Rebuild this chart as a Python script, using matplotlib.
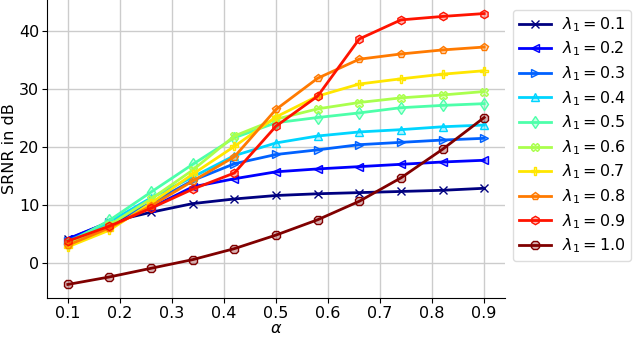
import numpy as np
import matplotlib
matplotlib.use("Agg")
import matplotlib.pyplot as plt

# alpha values on the x axis
alpha = [0.1, 0.18, 0.26, 0.34, 0.42, 0.5, 0.58, 0.66, 0.74, 0.82, 0.9]
lambdas = ["0.1", "0.2", "0.3", "0.4", "0.5", "0.6", "0.7", "0.8", "0.9", "1.0"]

# SRNR in dB, one list per lambda_1
srnr_01 = [4.0, 7.0, 8.7, 10.2, 11.0, 11.6, 11.9, 12.1, 12.3, 12.5, 12.85]
srnr_02 = [4.1, 7.0, 9.5, 13.1, 14.5, 15.7, 16.2, 16.6, 17.0, 17.4, 17.7]
srnr_03 = [3.8, 6.8, 10.3, 14.2, 17.1, 18.7, 19.5, 20.4, 20.8, 21.2, 21.5]
srnr_04 = [3.6, 7.0, 11.2, 14.8, 18.5, 20.7, 21.9, 22.6, 23.0, 23.5, 23.8]
srnr_05 = [3.4, 7.3, 12.2, 17.0, 21.6, 24.2, 25.1, 25.9, 26.8, 27.2, 27.5]
srnr_06 = [3.2, 6.5, 11.0, 16.0, 21.9, 24.8, 26.6, 27.7, 28.5, 29.0, 29.6]
srnr_07 = [2.7, 5.6, 10.3, 15.3, 20.1, 25.2, 28.8, 30.9, 31.8, 32.6, 33.2]
srnr_08 = [3.0, 6.0, 9.8, 14.1, 18.3, 26.5, 31.9, 35.2, 36.1, 36.8, 37.3]
srnr_09 = [3.7, 6.3, 9.4, 12.7, 15.5, 23.6, 28.8, 38.7, 42.0, 42.6, 43.1]
srnr_10 = [-3.8, -2.5, -1.0, 0.5, 2.4, 4.75, 7.4, 10.6, 14.65, 19.6, 25.1]

series = [srnr_01, srnr_02, srnr_03, srnr_04, srnr_05,
          srnr_06, srnr_07, srnr_08, srnr_09, srnr_10]
markers = ["x", "<", ">", "^", "d", "X", "P", "p", "h", "8"]
colors = plt.cm.jet(np.linspace(0, 1, len(series)))

fig = plt.figure(figsize=(6.4, 3.37), dpi=100)
ax = fig.add_axes([47 / 640, 39 / 337, 458 / 640, 298 / 337])

for lam, ys, m, c in zip(lambdas, series, markers, colors):
    ax.plot(alpha, ys, marker=m, color=c, linewidth=2, markersize=6,
            markerfacecolor=(c[0], c[1], c[2], 0.3), markeredgecolor=c,
            markeredgewidth=1, label=r"$\lambda_1=" + lam + "$")

ax.set_xticks([0.1, 0.2, 0.3, 0.4, 0.5, 0.6, 0.7, 0.8, 0.9])
ax.set_yticks([0, 10, 20, 30, 40])
ax.tick_params(labelsize=11.5, pad=2)
ax.set_xlabel(r"$\alpha$", fontsize=11.5, labelpad=0.5)
ax.set_ylabel("SRNR in dB", fontsize=11.5, labelpad=1.5)
ax.grid(True, color="#cccccc", linewidth=1)
ax.set_axisbelow(True)
ax.spines["top"].set_visible(False)
ax.spines["right"].set_visible(False)

ax.legend(loc="upper left", bbox_to_anchor=(1.018, 0.968), fontsize=11.5,
          handlelength=2.0, handletextpad=0.7, labelspacing=0.37,
          borderpad=0.35, borderaxespad=0.0,
          framealpha=1, edgecolor="#dddddd")

fig.savefig("out.png", dpi=100)
